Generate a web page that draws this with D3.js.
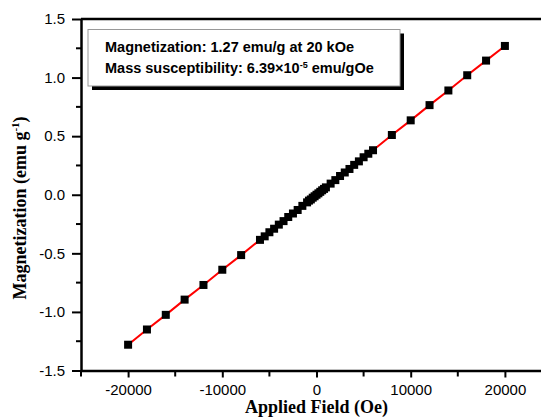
<!DOCTYPE html>
<html>
<head>
<meta charset="utf-8">
<script src="https://cdn.jsdelivr.net/npm/d3@7"></script>
<style>
  body { margin: 0; background: #fff; }
  svg { display: block; }
</style>
</head>
<body>
<div id="chart"></div>
<script>
// applied field (Oe) and magnetization (emu/g)
var field = [-20000, -18000, -16000, -14000, -12000, -10000, -8000,
  -6000, -5500, -5000, -4500, -4000, -3500, -3000, -2500, -2000, -1500, -1000,
  -800, -600, -400, -200, 0, 200, 400, 600, 800,
  1000, 1500, 2000, 2500, 3000, 3500, 4000, 4500, 5000, 5500, 6000,
  8000, 10000, 12000, 14000, 16000, 18000, 20000];
var magnet = [-1.28, -1.15, -1.025, -0.895, -0.77, -0.64, -0.515,
  -0.385, -0.355, -0.32, -0.29, -0.255, -0.225, -0.19, -0.16, -0.13, -0.095, -0.065,
  -0.05, -0.04, -0.025, -0.013, 0.0, 0.012, 0.025, 0.038, 0.05,
  0.063, 0.095, 0.125, 0.16, 0.19, 0.22, 0.255, 0.285, 0.32, 0.35, 0.38,
  0.51, 0.635, 0.765, 0.89, 1.02, 1.145, 1.27];

var xMajor = [-20000, -10000, 0, 10000, 20000];
var xMinor = [-25000, -15000, -5000, 5000, 15000, 25000];
var yMajor = [-1.5, -1.0, -0.5, 0.0, 0.5, 1.0, 1.5];
var yMinor = [-1.25, -0.75, -0.25, 0.25, 0.75, 1.25];

var legendLines = ["Magnetization: 1.27 emu/g at 20 kOe", "Mass susceptibility: 6.39\u00d710", "-5", " emu/gOe"];

var data = field.map(function(f, i) { return {h: f, m: magnet[i]}; });

var margin = {top: 19, left: 81},
    width = 471,
    height = 351.5;

var svg = d3.select("#chart").append("svg")
    .attr("width", 541)
    .attr("height", 417);

var g = svg.append("g")
    .attr("transform", "translate(" + margin.left + "," + margin.top + ")");

var x = d3.scaleLinear().domain([-25000, 25000]).range([0, width]);
var y = d3.scaleLinear().domain([-1.5, 1.5]).range([height, 0]);

// frame top line (right side falls outside the picture)
g.append("line")
    .attr("x1", 0).attr("x2", width)
    .attr("y1", 0).attr("y2", 0)
    .attr("stroke", "#000").attr("stroke-width", 2.5);

// x axis
var xAxis = g.append("g")
    .attr("transform", "translate(0," + height + ")")
    .call(d3.axisBottom(x).tickValues(xMajor).tickSize(7).tickSizeOuter(0).tickPadding(7)
      .tickFormat(function(d) { return d3.format("d")(d).replace("\u2212", "-"); }));
xAxis.selectAll(".minor")
    .data(xMinor).enter().append("line")
    .attr("class", "minor")
    .attr("x1", function(d) { return x(d); }).attr("x2", function(d) { return x(d); })
    .attr("y1", 0).attr("y2", 6)
    .attr("stroke", "#000").attr("stroke-width", 2);

// y axis
var yAxis = g.append("g")
    .call(d3.axisLeft(y).tickValues(yMajor).tickSize(9).tickSizeOuter(0).tickPadding(7)
      .tickFormat(function(d) { return d3.format(".1f")(d).replace("\u2212", "-"); }));
yAxis.selectAll(".minor")
    .data(yMinor).enter().append("line")
    .attr("class", "minor")
    .attr("y1", function(d) { return y(d); }).attr("y2", function(d) { return y(d); })
    .attr("x1", 0).attr("x2", -5)
    .attr("stroke", "#000").attr("stroke-width", 2);

g.selectAll(".domain").attr("stroke-width", 2.5);
g.selectAll(".tick line").attr("stroke-width", 2);
g.selectAll(".tick text")
    .style("font-family", "'Liberation Sans', Arial, sans-serif")
    .style("font-size", "15px")
    .attr("fill", "#000");

// legend box with shadow
var lx = 7, ly = 10.5, lw = 312, lh = 56.5;
g.append("rect")
    .attr("x", lx + 4).attr("y", ly + 4)
    .attr("width", lw).attr("height", lh)
    .attr("fill", "#000");
g.append("rect")
    .attr("x", lx).attr("y", ly)
    .attr("width", lw).attr("height", lh)
    .attr("fill", "#fff")
    .attr("stroke", "#999").attr("stroke-width", 1);

var legend = g.append("g")
    .style("font-family", "'Liberation Sans', Arial, sans-serif")
    .style("font-size", "14.5px")
    .style("font-weight", "bold");
legend.append("text")
    .attr("x", 24).attr("y", 33)
    .text(legendLines[0]);
var l2 = legend.append("text")
    .attr("x", 24).attr("y", 54);
l2.append("tspan").text(legendLines[1]);
l2.append("tspan").attr("dy", -5).style("font-size", "9px").text(legendLines[2]);
l2.append("tspan").attr("dy", 5).text(legendLines[3]);

// red line through points
var line = d3.line()
    .x(function(d) { return x(d.h); })
    .y(function(d) { return y(d.m); });
g.append("path")
    .datum(data)
    .attr("d", line)
    .attr("fill", "none")
    .attr("stroke", "#ff0000")
    .attr("stroke-width", 2);

// square markers
var s = 8;
g.selectAll(".pt")
    .data(data)
  .enter().append("rect")
    .attr("class", "pt")
    .attr("x", function(d) { return x(d.h) - s / 2; })
    .attr("y", function(d) { return y(d.m) - s / 2; })
    .attr("width", s).attr("height", s)
    .attr("fill", "#000");

// axis titles
svg.append("text")
    .attr("x", margin.left + x(0))
    .attr("y", 413)
    .attr("text-anchor", "middle")
    .style("font-family", "'Liberation Serif', 'Times New Roman', serif")
    .style("font-size", "18px")
    .style("font-weight", "bold")
    .text("Applied Field (Oe)");

var yt = svg.append("text")
    .attr("transform", "translate(26,208) rotate(-90)")
    .attr("text-anchor", "middle")
    .style("font-family", "'Liberation Serif', 'Times New Roman', serif")
    .style("font-size", "18px")
    .style("font-weight", "bold");
yt.append("tspan").text("Magnetization (emu g");
yt.append("tspan").attr("dy", -7).style("font-size", "11px").text("-1");
yt.append("tspan").attr("dy", 7).text(")");
</script>
</body>
</html>
